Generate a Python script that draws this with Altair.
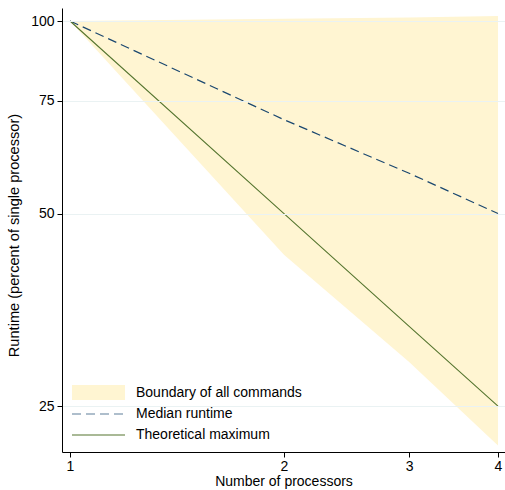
import altair as alt
import pandas as pd

processors = [1, 2, 3, 4]
band_upper = [100, 100.8, 101.3, 101.8]
band_lower = [100, 43.1, 29.3, 21.7]
median_runtime = [100, 70.1, 57.8, 50]
theoretical_max = [100, 50, 33.3, 25]

legend_labels = ["Boundary of all commands", "Median runtime", "Theoretical maximum"]
x_ticks = [1, 2, 3, 4]
y_ticks = [25, 50, 75, 100]

df = pd.DataFrame({
    "n": processors,
    "upper": band_upper,
    "lower": band_lower,
    "median": median_runtime,
    "theory": theoretical_max,
})

FONT = "Liberation Sans"
FS = 14
FILL = "#FFF5D2"
NAVY = "#1a476f"
GREEN = "#55752f"

xscale = alt.Scale(type="log", domain=[0.9744, 4.092], nice=False)
yscale = alt.Scale(type="log", domain=[21.19, 104.8], nice=False)

xaxis = alt.Axis(values=x_ticks, format="d", title="Number of processors", grid=False,
                 tickSize=5, labelPadding=2, titlePadding=1, zindex=1)
yaxis = alt.Axis(values=y_ticks, format="d", title="Runtime (percent of single processor)",
                 grid=True, gridColor="#EAF2F3", gridWidth=1, tickSize=5, labelPadding=3,
                 titlePadding=9, titleY=227, titleFontSize=14.6, zindex=1)

base = alt.Chart(df)
one = alt.Chart(pd.DataFrame({"k": [0]}))

band = base.mark_area(color=FILL, opacity=1).encode(
    x=alt.X("n:Q", scale=xscale, axis=xaxis),
    y=alt.Y("lower:Q", scale=yscale, axis=yaxis),
    y2="upper:Q",
)

med = base.mark_line(color=NAVY, strokeWidth=1.2, strokeDash=[9, 5]).encode(
    x=alt.X("n:Q", scale=xscale),
    y=alt.Y("median:Q", scale=yscale),
)

theo = base.mark_line(color=GREEN, strokeWidth=1.1).encode(
    x=alt.X("n:Q", scale=xscale),
    y=alt.Y("theory:Q", scale=yscale),
)

# legend (drawn inside plot, bottom-left)
leg_bg = one.mark_rect(fill="white").encode(
    x=alt.value(1), x2=alt.value(251), y=alt.value(369), y2=alt.value(443)
)
leg_sym = one.mark_rect(fill=FILL).encode(
    x=alt.value(10), x2=alt.value(63), y=alt.value(377), y2=alt.value(392)
)
leg_dash = one.mark_rule(color=NAVY, strokeWidth=1.2, strokeDash=[9, 5], opacity=0.7).encode(
    x=alt.value(10), x2=alt.value(63), y=alt.value(406)
)
leg_line = one.mark_rule(color=GREEN, strokeWidth=1.1).encode(
    x=alt.value(10), x2=alt.value(63), y=alt.value(427)
)
leg_texts = []
for i, lab in enumerate(legend_labels):
    leg_texts.append(
        one.mark_text(text=lab, align="left", baseline="middle", font=FONT,
                      fontSize=FS, color="#000000").encode(
            x=alt.value(74), y=alt.value(385 + 21 * i)
        )
    )

chart = alt.layer(band, med, theo, leg_bg, leg_sym, leg_dash, leg_line, *leg_texts).properties(
    width=443, height=444,
    padding={"left": 62, "top": 8, "right": 0, "bottom": 38},
    autosize="none",
).configure_view(stroke=None).configure_axis(
    labelFont=FONT, titleFont=FONT, labelFontSize=FS, titleFontSize=FS,
    labelColor="#000000", titleColor="#000000", titleFontWeight="normal",
    domainColor="#000000", tickColor="#000000", domainWidth=1, tickWidth=1,
)

chart.save("out.html", embed_options={"renderer": "svg", "actions": False})
